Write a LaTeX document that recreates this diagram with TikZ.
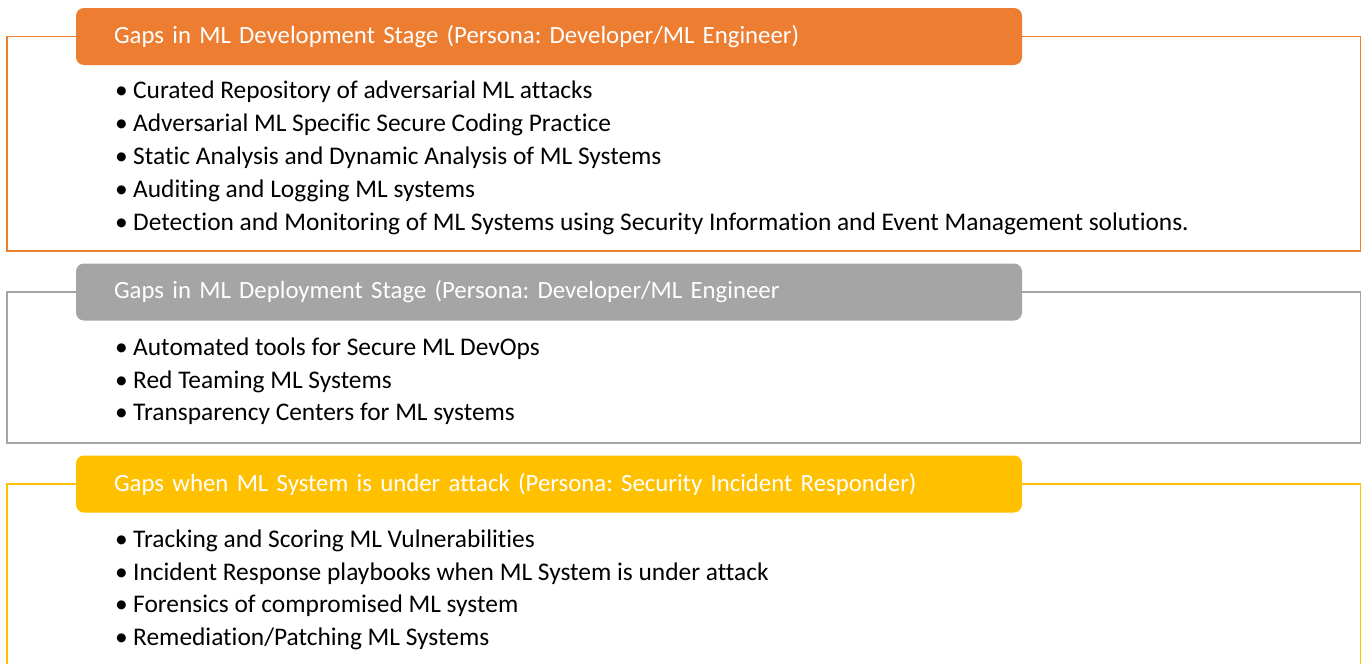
\documentclass[tikz,border=0pt]{standalone}
\usepackage{fontspec}
\setmainfont[Ligatures=NoCommon]{Carlito}
\definecolor{cOrange}{HTML}{ED7D31}
\definecolor{cGray}{HTML}{A5A5A5}
\definecolor{cYellow}{HTML}{FFC000}
\begin{document}
\frenchspacing
\begin{tikzpicture}[x=1pt,y=-1pt,
  header/.style={rectangle, rounded corners=8pt, fill=#1, draw=none,
    minimum width=946pt, minimum height=57pt, text width=870pt, inner xsep=38pt,
    align=left, text=white, font=\fontsize{24.8}{28}\selectfont\frenchspacing},
  frame/.style={draw=#1, line width=1.6pt},
  item/.style={anchor=base west, inner sep=0pt, font=\fontsize{25.4}{28}\selectfont\frenchspacing}
]
\useasboundingbox (0,0) rectangle (1361,664);
\fill[white] (0,0) rectangle (1361,664);

% Box 1
\coordinate (f1tl) at (7,36.5);
\coordinate (f1bl) at (7,251);
\coordinate (f1br) at (1360.5,251);
\coordinate (f1tr) at (1360.5,36.5);
\node[header=cOrange] (h1) at (549,36.5) {Gaps in ML Development Stage (Persona: Developer/ML Engineer)};
\draw[frame=cOrange] (h1.west) -- (f1tl) -- (f1bl) -- (f1br) -- (f1tr) -- (h1.east);
\node[item] (a1) at (115,98.5) {\makebox[18pt][l]{•}Curated Repository of adversarial ML attacks};
\node[item] (a2) at (115,131.5) {\makebox[18pt][l]{•}Adversarial ML Specific Secure Coding Practice};
\node[item] (a3) at (115,164.5) {\makebox[18pt][l]{•}Static Analysis and Dynamic Analysis of ML Systems};
\node[item] (a4) at (115,197.5) {\makebox[18pt][l]{•}Auditing and Logging ML systems};
\node[item] (a5) at (115,230.5) {\makebox[18pt][l]{•}Detection and Monitoring of ML Systems using Security Information and Event Management solutions.};

% Box 2
\coordinate (f2tl) at (7,292);
\coordinate (f2bl) at (7,443);
\coordinate (f2br) at (1360.5,443);
\coordinate (f2tr) at (1360.5,292);
\node[header=cGray] (h2) at (549,292) {Gaps in ML Deployment Stage (Persona: Developer/ML Engineer};
\draw[frame=cGray] (h2.west) -- (f2tl) -- (f2bl) -- (f2br) -- (f2tr) -- (h2.east);
\node[item] (b1) at (115,355.5) {\makebox[18pt][l]{•}Automated tools for Secure ML DevOps};
\node[item] (b2) at (115,388.5) {\makebox[18pt][l]{•}Red Teaming ML Systems};
\node[item] (b3) at (115,420.5) {\makebox[18pt][l]{•}Transparency Centers for ML systems};

% Box 3
\coordinate (f3tl) at (7,484);
\coordinate (f3bl) at (7,680);
\coordinate (f3br) at (1360.5,680);
\coordinate (f3tr) at (1360.5,484);
\node[header=cYellow] (h3) at (549,484) {Gaps when ML System is under attack (Persona: Security Incident Responder)};
\draw[frame=cYellow] (h3.west) -- (f3tl) -- (f3bl) -- (f3br) -- (f3tr) -- (h3.east);
\node[item] (c1) at (115,547.5) {\makebox[18pt][l]{•}Tracking and Scoring ML Vulnerabilities};
\node[item] (c2) at (115,580.5) {\makebox[18pt][l]{•}Incident Response playbooks when ML System is under attack};
\node[item] (c3) at (115,612.5) {\makebox[18pt][l]{•}Forensics of compromised ML system};
\node[item] (c4) at (115,645.5) {\makebox[18pt][l]{•}Remediation/Patching ML Systems};
\end{tikzpicture}
\end{document}
